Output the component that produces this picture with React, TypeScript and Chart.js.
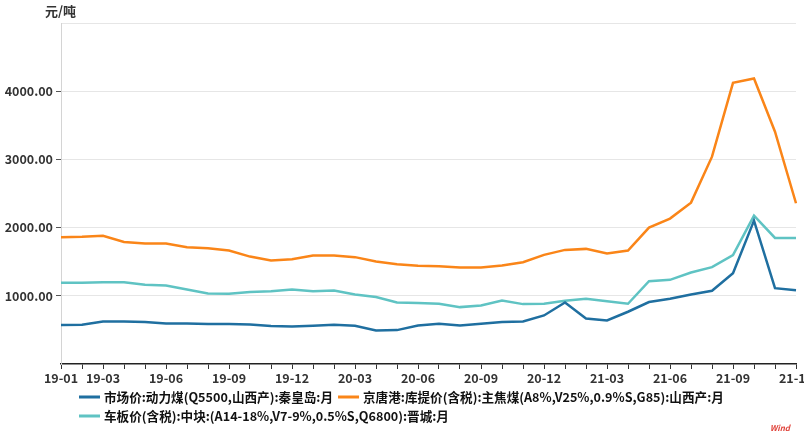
import React, { useEffect, useRef } from 'react';
import { Chart, registerables } from 'chart.js';

Chart.register(...registerables);

const months = [
  '19-01', '19-02', '19-03', '19-04', '19-05', '19-06', '19-07', '19-08', '19-09', '19-10', '19-11', '19-12',
  '20-01', '20-02', '20-03', '20-04', '20-05', '20-06', '20-07', '20-08', '20-09', '20-10', '20-11', '20-12',
  '21-01', '21-02', '21-03', '21-04', '21-05', '21-06', '21-07', '21-08', '21-09', '21-10', '21-11', '21-12',
];

const labeledMonths = ['19-01', '19-03', '19-06', '19-09', '19-12', '20-03', '20-06', '20-09', '20-12', '21-03', '21-06', '21-09', '21-12'];

const steamCoalQhd = [
  571, 575, 624, 624, 615, 594, 594, 585, 585, 580, 556, 551,
  561, 575, 561, 492, 497, 565, 590, 565, 590, 615, 624, 712,
  902, 668, 638, 766, 908, 956, 1019, 1073, 1332, 2102, 1112, 1083,
];

const cokingCoalJingtang = [
  1860, 1865, 1880, 1790, 1766, 1766, 1713, 1698, 1663, 1575, 1517, 1537,
  1590, 1590, 1567, 1502, 1464, 1439, 1435, 1414, 1414, 1444, 1493, 1600,
  1673, 1688, 1620, 1664, 2000, 2132, 2366, 3040, 4123, 4187, 3406, 2357,
];

const lumpCoalJincheng = [
  1190, 1190, 1200, 1200, 1161, 1151, 1092, 1034, 1029, 1054, 1068, 1092,
  1068, 1078, 1019, 981, 902, 893, 883, 834, 858, 931, 878, 883,
  927, 956, 920, 883, 1215, 1234, 1341, 1420, 1596, 2176, 1849, 1849,
];

const seriesNames = [
  '市场价:动力煤(Q5500,山西产):秦皇岛:月',
  '京唐港:库提价(含税):主焦煤(A8%,V25%,0.9%S,G85):山西产:月',
  '车板价(含税):中块:(A14-18%,V7-9%,0.5%S,Q6800):晋城:月',
];

const seriesColors = ['#1f6fa0', '#fa8518', '#5fc3c3'];

const yTickValues = [0, 1000, 2000, 3000, 4000, 5000];
const unitLabel = '元/吨';
const sourceLabel = 'Wind';

const FONT = '"Noto Sans CJK SC", "Noto Sans", sans-serif';

const overlayPlugin = {
  id: 'overlay',
  afterDraw(chart: any) {
    const { ctx, chartArea } = chart;
    ctx.save();
    ctx.textBaseline = 'middle';
    ctx.textAlign = 'left';
    // unit label
    ctx.font = `bold 13px ${FONT}`;
    ctx.fillStyle = '#333';
    ctx.fillText(unitLabel, chartArea.left - 16, chartArea.top - 12);
    // legend
    ctx.font = `bold 12.6px ${FONT}`;
    const startX = chartArea.left + 18;
    let x = startX;
    let y = chartArea.bottom + 33;
    chart.data.datasets.forEach((ds: any) => {
      const w = 21 + 4 + ctx.measureText(ds.label).width;
      if (x + w > chartArea.right && x > startX) {
        x = startX;
        y += 19;
      }
      ctx.fillStyle = ds.borderColor;
      ctx.fillRect(x, y - 1.5, 21, 3);
      ctx.fillStyle = '#111';
      ctx.fillText(ds.label, x + 25, y + 0.5);
      x += w + 5;
    });
    // source watermark
    ctx.font = `italic bold 8px ${FONT}`;
    ctx.fillStyle = '#e0443c';
    ctx.textAlign = 'right';
    ctx.fillText(sourceLabel, chartArea.right - 6, chart.height - 10);
    ctx.restore();
  },
};

export default function App() {
  const canvasRef = useRef<HTMLCanvasElement | null>(null);

  useEffect(() => {
    if (!canvasRef.current) return;
    const seriesData = [steamCoalQhd, cokingCoalJingtang, lumpCoalJincheng];
    const chart = new Chart(canvasRef.current, {
      type: 'line',
      data: {
        labels: months,
        datasets: seriesData.map((d, i) => ({
          label: seriesNames[i],
          data: d,
          borderColor: seriesColors[i],
          backgroundColor: seriesColors[i],
          borderWidth: 2.5,
          pointRadius: 0,
          pointHoverRadius: 0,
          tension: 0,
          fill: false,
        })),
      },
      options: {
        animation: false,
        responsive: false,
        devicePixelRatio: 1,
        layout: { padding: { top: 23, left: 0, right: 34, bottom: 0 } },
        plugins: {
          legend: { display: false },
          tooltip: { enabled: false },
          title: { display: false },
        },
        scales: {
          x: {
            type: 'category',
            afterFit: (s: any) => {
              s.height = 74;
            },
            ticks: {
              autoSkip: false,
              maxRotation: 0,
              minRotation: 0,
              padding: 2,
              color: '#333',
              font: { family: FONT, size: 12.5, weight: 'bold' },
              callback: (_v: any, i: number) => (labeledMonths.includes(months[i]) ? months[i] : ''),
            },
            grid: {
              drawOnChartArea: false,
              drawTicks: true,
              tickLength: 5,
              tickColor: '#333',
            },
            border: { color: '#222', width: 1.5 },
          },
          y: {
            min: 0,
            max: 5000,
            afterFit: (s: any) => {
              s.width = 61;
            },
            afterBuildTicks: (s: any) => {
              s.ticks = yTickValues.map((v) => ({ value: v }));
            },
            ticks: {
              padding: 3,
              color: '#333',
              font: { family: FONT, size: 12.5, weight: 'bold' },
              callback: (v: any) => {
                const n = Number(v);
                return n === 0 || n === 5000 ? '' : n.toFixed(2);
              },
            },
            grid: {
              color: (c: any) => (c.tick && c.tick.value === 0 ? 'rgba(0,0,0,0)' : '#e6e6e6'),
              tickLength: 5,
              tickColor: (c: any) =>
                c.tick && (c.tick.value === 0 || c.tick.value === 5000) ? 'rgba(0,0,0,0)' : '#555',
            },
            border: { color: '#d4d4d4', width: 1 },
          },
        },
      },
      plugins: [overlayPlugin],
    } as any);
    return () => chart.destroy();
  }, []);

  return (
    <div
      style={{
        position: 'fixed',
        left: 0,
        top: 0,
        width: 804,
        height: 438,
        overflow: 'hidden',
        background: '#fff',
      }}
    >
      <canvas ref={canvasRef} width={830} height={438} style={{ display: 'block' }} />
    </div>
  );
}
